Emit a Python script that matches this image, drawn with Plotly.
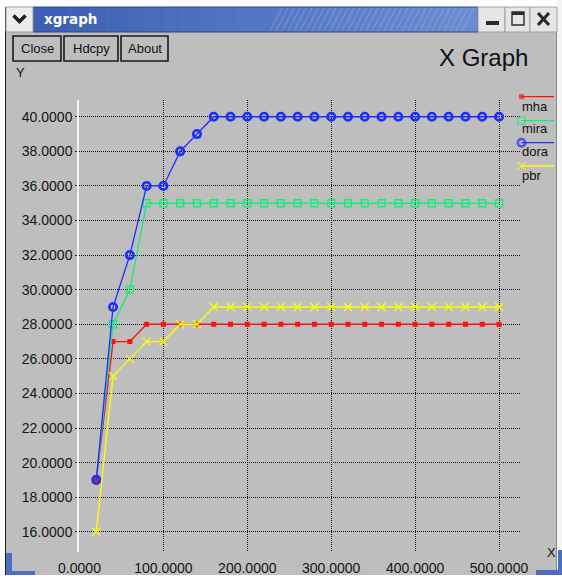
import plotly.graph_objects as go

# ---------------- data ----------------
x_vals = [20, 40, 60, 80, 100, 120, 140, 160, 180, 200, 220, 240, 260, 280, 300,
          320, 340, 360, 380, 400, 420, 440, 460, 480, 500]
mha = [19, 27, 27, 28, 28, 28, 28, 28, 28, 28, 28, 28, 28, 28, 28,
       28, 28, 28, 28, 28, 28, 28, 28, 28, 28]
mira = [19, 28, 30, 35, 35, 35, 35, 35, 35, 35, 35, 35, 35, 35, 35,
        35, 35, 35, 35, 35, 35, 35, 35, 35, 35]
dora = [19, 29, 32, 36, 36, 38, 39, 40, 40, 40, 40, 40, 40, 40, 40,
        40, 40, 40, 40, 40, 40, 40, 40, 40, 40]
pbr = [16, 25, 26, 27, 27, 28, 28, 29, 29, 29, 29, 29, 29, 29, 29,
       29, 29, 29, 29, 29, 29, 29, 29, 29, 29]
series_names = ["mha", "mira", "dora", "pbr"]
x_ticks = [0, 100, 200, 300, 400, 500]
y_ticks = [16, 18, 20, 22, 24, 26, 28, 30, 32, 34, 36, 38, 40]

# ---------------- styles ----------------
W, H = 562, 580
FONT = "Liberation Sans, Arial, Helvetica, sans-serif"
BG = "#bebebe"
colors = ["#ff1010", "#10ee78", "#1e2cff", "#ffff00"]
symbols = ["square", "square-open", "circle-open", "x-thin"]
msizes = [5, 7, 7.5, 8]
mlw = [0, 1.3, 2.6, 1.2]
series = [mha, mira, dora, pbr]


def PX(x):
    return x / W


def PY(y):
    return 1 - y / H


shapes = []
annotations = []


def rect(x0, y0, x1, y1, fill, line=None, lw=0, layer="below"):
    shapes.append(dict(type="rect", xref="paper", yref="paper",
                       x0=PX(x0), x1=PX(x1), y0=PY(y1), y1=PY(y0),
                       fillcolor=fill,
                       line=dict(color=line or fill, width=lw),
                       layer=layer))


def seg(x0, y0, x1, y1, color, width, layer="above"):
    shapes.append(dict(type="line", xref="paper", yref="paper",
                       x0=PX(x0), x1=PX(x1), y0=PY(y0), y1=PY(y1),
                       line=dict(color=color, width=width), layer=layer))


def text(x, y, s, size=13, color="#111", xanchor="center", family=FONT, bold=False):
    annotations.append(dict(xref="paper", yref="paper", x=PX(x), y=PY(y),
                            text=("<b>%s</b>" % s) if bold else s,
                            showarrow=False, xanchor=xanchor, yanchor="middle",
                            font=dict(size=size, color=color, family=family)))


# ---- window chrome ----
rect(0, 0, W, 7, "#ffffff")            # top
rect(0, 0, 5, H, "#ffffff")            # left
rect(557, 0, W, H, "#f4f4f4")          # right
rect(0, 575, W, H, "#ffffff")          # bottom
seg(5.5, 7, 5.5, 575, "#202020", 1, layer="below")
seg(556.5, 32, 556.5, 575, "#8a8a8a", 1, layer="below")

# title bar gradient
n = 24
x_start, x_end = 33, 478
c0, c1 = (0x3d, 0x60, 0xb4), (0x6c, 0x8c, 0xd2)
for i in range(n):
    t = i / (n - 1)
    c = tuple(int(c0[k] + (c1[k] - c0[k]) * t) for k in range(3))
    xa = x_start + (x_end - x_start) * i / n
    xb = x_start + (x_end - x_start) * (i + 1) / n + 0.5
    rect(xa, 7, xb, 32, "rgb(%d,%d,%d)" % c)
# diagonal hatch on the right of the title bar
path = ""
for xx in range(270, 466, 6):
    path += "M %f %f L %f %f " % (PX(xx), PY(31), PX(xx + 12), PY(8))
shapes.append(dict(type="path", xref="paper", yref="paper", path=path,
                   line=dict(color="rgba(150,175,230,0.55)", width=1), layer="below"))
shapes.append(dict(type="rect", xref="paper", yref="paper",
                   x0=PX(33), x1=PX(478), y0=PY(32), y1=PY(7),
                   fillcolor="rgba(0,0,0,0)", line=dict(color="#2c4788", width=1),
                   layer="below"))
text(42, 19.5, "xgraph", size=13.5, color="#ffffff", xanchor="left",
     family="DejaVu Sans, sans-serif", bold=True)

# left menu button with chevron
rect(6, 7, 33, 32, "#ececec", "#9a9a9a", 1)
shapes.append(dict(type="path", xref="paper", yref="paper",
                   path="M %f %f L %f %f L %f %f" % (PX(13.5), PY(15.5), PX(19.5), PY(21.5), PX(25.5), PY(15.5)),
                   line=dict(color="#1c1c1c", width=3.5), layer="above"))
# right buttons
for (a, b) in [(478, 505), (505, 530), (530, 557)]:
    rect(a, 7, b, 32, "#e6e6e6", "#a0a0a0", 1)
rect(486, 21, 499, 25, "#2a2a2a")                        # minimize
rect(512, 12, 524, 25, "rgba(0,0,0,0)", "#2a2a2a", 1.4)  # maximize
rect(512, 12, 524, 15, "#2a2a2a")
seg(538, 13, 549, 25, "#2a2a2a", 3.2)                    # close
seg(538, 25, 549, 13, "#2a2a2a", 3.2)

# bottom blue corners
blue = "#4c6fc4"
rect(6, 553, 12, 575, blue)
rect(6, 571, 35, 575, blue)
rect(558, 550, 562, 575, blue)
rect(536, 570, 562, 575, blue)

# command buttons
for (a, b, lab) in [(13, 61, "Close"), (64, 118, "Hdcpy"), (121, 168, "About")]:
    rect(a, 36, b, 61, "rgba(0,0,0,0)", "#1a1a1a", 1.6)
    text((a + b) / 2, 48.5, lab, size=13)

# titles / axis names
text(483, 57, "X Graph", size=24)
text(14, 73, "Y", size=13, xanchor="left")
text(545, 552, "X", size=13, xanchor="left")

# ---------------- figure ----------------
fig = go.Figure()
for name, ys, col, sym, ms, lw in zip(series_names, series, colors, symbols, msizes, mlw):
    fig.add_trace(go.Scatter(
        x=x_vals, y=ys, name=name, mode="lines+markers",
        line=dict(color=col, width=1.3),
        marker=dict(symbol=sym, size=ms, color=col, line=dict(color=col, width=lw)),
        cliponaxis=False, showlegend=False))

# custom legend (line with marker at left end, label underneath)
leg_line_y = [96.7, 120.7, 142.7, 166]
leg_text_y = [106, 129, 151, 175]
for name, col, sym, ms, lw, ly, ty in zip(series_names, colors, symbols, msizes,
                                          mlw, leg_line_y, leg_text_y):
    fig.add_trace(go.Scatter(
        x=[521.5, 554], y=[ly, ly], mode="lines+markers", xaxis="x2", yaxis="y2",
        line=dict(color=col, width=1.3),
        marker=dict(symbol=sym, size=[ms, 0], color=col, line=dict(color=col, width=lw)),
        cliponaxis=False, showlegend=False, hoverinfo="skip"))
    text(520, ty, name, size=13, xanchor="left")

axis_font = dict(family=FONT, size=14, color="#151515")
fig.update_layout(
    width=W, height=H, autosize=False,
    margin=dict(l=0, r=0, t=0, b=0, pad=0),
    paper_bgcolor=BG, plot_bgcolor="rgba(0,0,0,0)",
    shapes=shapes, annotations=annotations,
    showlegend=False,
    xaxis=dict(domain=[PX(79), PX(520)], range=[-0.6, 525], automargin=False,
               tickvals=x_ticks, tickformat=".4f", tickfont=axis_font,
               showgrid=True, gridcolor="#111111", gridwidth=1, griddash="1px,1px",
               zeroline=False, showline=False, ticks="", ticklabelstandoff=6,
               anchor="y"),
    yaxis=dict(domain=[PY(552), PY(100)], range=[14.83, 40.97], automargin=False,
               tickvals=y_ticks, tickformat=".4f", tickfont=axis_font,
               showgrid=True, gridcolor="#111111", gridwidth=1, griddash="1px,1px",
               zeroline=False, showline=True, linecolor="#f4f4f4", linewidth=1.5,
               ticks="outside", ticklen=2, tickcolor="#333", anchor="x"),
    xaxis2=dict(domain=[0, 1], range=[0, W], visible=False, anchor="y2",
                fixedrange=True, automargin=False),
    yaxis2=dict(domain=[0, 1], range=[H, 0], visible=False, anchor="x2",
                fixedrange=True, automargin=False),
)

fig.write_html("out.html", config={"displayModeBar": False},
               post_script="document.body.style.margin='0';document.body.style.padding='0';")
